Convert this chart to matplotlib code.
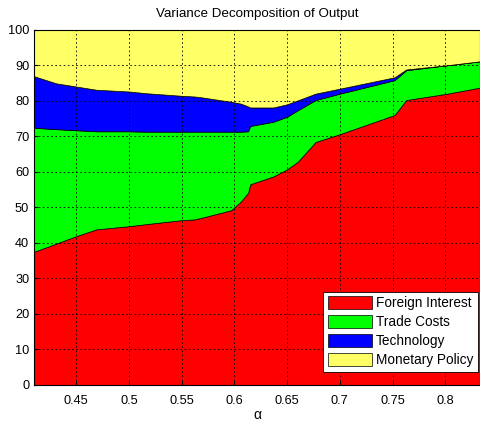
import matplotlib
matplotlib.use("Agg")
import matplotlib.pyplot as plt
import numpy as np

plt.rcParams['font.family'] = ['Liberation Sans', 'DejaVu Sans']

# alpha grid and variance shares (percent)
alpha = [0.41, 0.431, 0.45, 0.469, 0.5, 0.517, 0.55, 0.562, 0.568, 0.597, 0.606, 0.613,
         0.615, 0.628, 0.637, 0.65, 0.66, 0.677, 0.70, 0.752, 0.763, 0.802, 0.833]
foreign_interest = [37.5, 39.8, 41.9, 43.8, 44.7, 45.3, 46.4, 46.6, 47.0, 49.2, 51.6, 54.1,
                    56.5, 57.8, 58.7, 60.7, 62.8, 68.4, 70.6, 76.0, 80.2, 82.0, 83.7]
trade_costs = [34.9, 32.2, 29.8, 27.6, 26.7, 26.0, 24.9, 24.7, 24.3, 22.1, 19.7, 17.3,
               16.4, 15.8, 15.4, 14.8, 14.5, 11.8, 11.4, 9.8, 8.4, 8.0, 7.4]
technology = [14.5, 12.9, 12.3, 11.7, 11.2, 10.8, 10.1, 9.9, 9.7, 8.4, 7.9, 7.0,
              5.2, 4.5, 4.0, 3.5, 2.8, 1.8, 1.4, 0.8, 0.2, 0.0, 0.0]
monetary_policy = [13.1, 15.1, 16.0, 16.9, 17.4, 17.9, 18.6, 18.8, 19.0, 20.3, 20.8, 21.6,
                   21.9, 21.9, 21.9, 21.0, 19.9, 18.0, 16.6, 13.4, 11.2, 10.0, 8.9]
labels = ['Foreign Interest', 'Trade Costs', 'Technology', 'Monetary Policy']
colors = ['#ff0000', '#00ff00', '#0000ff', '#ffff66']

fig = plt.figure(figsize=(4.8, 4.24), dpi=100)
ax = fig.add_axes([0.071, 0.092, 0.929, 0.838])

ax.stackplot(alpha, foreign_interest, trade_costs, technology, monetary_policy,
             colors=colors, labels=labels, edgecolor='k', linewidth=0.5)

ax.set_xlim(0.41, 0.833)
ax.set_ylim(0, 100)
ax.set_xticks(np.arange(0.45, 0.81, 0.05))
ax.set_xticklabels(['0.45', '0.5', '0.55', '0.6', '0.65', '0.7', '0.75', '0.8'])
ax.set_yticks(np.arange(0, 101, 10))
ax.tick_params(direction='in', labelsize=9.2, length=3)
ax.tick_params(axis='x', pad=7)
ax.set_axisbelow(False)
ax.grid(True, color='k', linestyle=(0, (2, 3)), linewidth=0.6)

ax.set_title('Variance Decomposition of Output', fontsize=9.6, pad=9)
ax.set_xlabel('α', fontsize=10)
ax.xaxis.set_label_coords(0.5, -0.085)
ax.xaxis.label.set_va('center')

leg = ax.legend(loc='lower right', fontsize=9.8, fancybox=False, framealpha=1,
                edgecolor='k', handlelength=3.2, handleheight=1.1, borderpad=0.35,
                labelspacing=0.35, handletextpad=0.3, borderaxespad=0,
                bbox_to_anchor=(0.9955, 0.0366))
leg.get_frame().set_linewidth(0.6)

fig.savefig('out.png', dpi=100)
